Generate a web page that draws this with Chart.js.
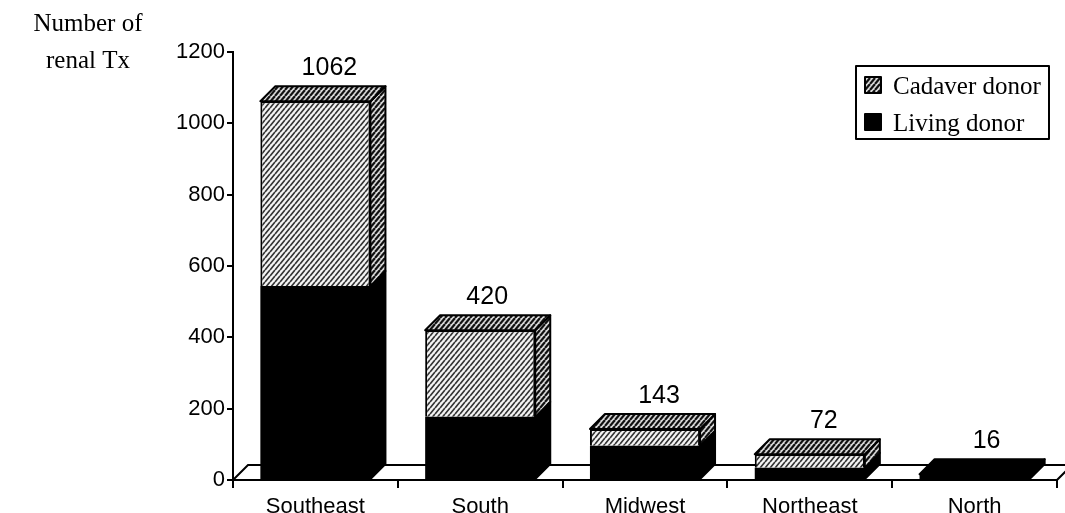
<!DOCTYPE html>
<html lang="en">
<head>
    <meta charset="UTF-8">
    <title>Number of renal Tx by region</title>
    <script src="https://cdn.jsdelivr.net/npm/chart.js"></script>
    <style>
        body { margin: 0; background: #fff; }
        canvas { display: block; }
    </style>
</head>
<body>
    <canvas id="txChart" width="1065" height="513"></canvas>

    <script>
        // Values
        const regions = ['Southeast', 'South', 'Midwest', 'Northeast', 'North'];
        const totals = [1062, 420, 143, 72, 16];
        const livingDonor = [544, 177, 96, 34, 16];
        const cadaverDonor = [518, 243, 47, 38, 0];
        const yTicks = [0, 200, 400, 600, 800, 1000, 1200];
        const titleLines = ['Number of', 'renal Tx'];

        const sansFont = '"Liberation Sans", Arial, sans-serif';
        const serifFont = '"Liberation Serif", "Times New Roman", serif';
        const depth = 15;  // 3D offset of the bars
        const labelNudge = [0, -7, 0, 0, -2];  // total labels are not quite centred in the original

        // Diagonal hatching, dark = side and top faces
        function hatch(line, back, width) {
            const w = 5, h = 6;
            const c = document.createElement('canvas');
            c.width = w;
            c.height = h;
            const g = c.getContext('2d');
            g.fillStyle = back;
            g.fillRect(0, 0, w, h);
            g.strokeStyle = line;
            g.lineWidth = width;
            g.beginPath();
            for (let i = -w; i <= w; i += w) {
                g.moveTo(i, h);
                g.lineTo(i + w, 0);
            }
            g.stroke();
            return g.createPattern(c, 'repeat');
        }
        const frontHatch = hatch('#333', '#f4f4f4', 1.7);
        const darkHatch = hatch('#111', '#d8d8d8', 2.2);

        function face(ctx, pts, fill) {
            ctx.beginPath();
            pts.forEach((p, i) => i ? ctx.lineTo(p[0], p[1]) : ctx.moveTo(p[0], p[1]));
            ctx.closePath();
            ctx.fillStyle = fill;
            ctx.fill();
            ctx.strokeStyle = '#000';
            ctx.lineWidth = 2;
            ctx.stroke();
        }

        // Floor behind the bars
        const floorPlugin = {
            id: 'floor',
            beforeDatasetsDraw(chart) {
                const ctx = chart.ctx;
                const x = chart.scales.x;
                const y0 = chart.scales.y.getPixelForValue(0);
                ctx.save();
                ctx.strokeStyle = '#000';
                ctx.lineWidth = 2;
                ctx.beginPath();
                ctx.moveTo(x.left, y0);
                ctx.lineTo(x.left + depth, y0 - depth);
                ctx.lineTo(x.right + depth, y0 - depth);
                ctx.lineTo(x.right, y0);
                ctx.stroke();
                ctx.restore();
            }
        };

        // Side and top faces, totals, title and legend
        const extrasPlugin = {
            id: 'extras',
            afterDatasetsDraw(chart) {
                const ctx = chart.ctx;
                ctx.save();
                ctx.lineJoin = 'round';
                const sets = chart.data.datasets;
                regions.forEach((name, i) => {
                    let topBar = null;
                    let topFill = null;
                    sets.forEach((ds, d) => {
                        if (!ds.data[i]) return;
                        const bar = chart.getDatasetMeta(d).data[i];
                        const right = bar.x + bar.width / 2;
                        const fill = d === 0 ? '#000' : darkHatch;
                        face(ctx, [[right, bar.y], [right + depth, bar.y - depth],
                            [right + depth, bar.base - depth], [right, bar.base]], fill);
                        topBar = bar;
                        topFill = fill;
                    });
                    const left = topBar.x - topBar.width / 2;
                    const right = topBar.x + topBar.width / 2;
                    face(ctx, [[left, topBar.y], [left + depth, topBar.y - depth],
                        [right + depth, topBar.y - depth], [right, topBar.y]], topFill);

                    // total above the bar
                    ctx.fillStyle = '#000';
                    ctx.font = '25px ' + sansFont;
                    ctx.textAlign = 'center';
                    ctx.textBaseline = 'alphabetic';
                    ctx.fillText(String(totals[i]), topBar.x + depth - 1 + labelNudge[i], topBar.y - depth - 11);
                });

                // axis title, top left
                ctx.fillStyle = '#000';
                ctx.font = '25px ' + serifFont;
                ctx.textAlign = 'center';
                ctx.fillText(titleLines[0], 88, 31);
                ctx.fillText(titleLines[1], 88, 68);

                // legend box
                ctx.lineWidth = 2;
                ctx.strokeStyle = '#000';
                ctx.strokeRect(856, 66, 193, 73);
                ctx.textAlign = 'left';
                ctx.font = '25px ' + serifFont;
                const rows = [sets[1], sets[0]];
                rows.forEach((ds, r) => {
                    const top = 77 + r * 37;
                    ctx.fillStyle = r === 0 ? darkHatch : '#000';
                    ctx.fillRect(865, top, 16, 16);
                    ctx.strokeRect(865, top, 16, 16);
                    ctx.fillStyle = '#000';
                    ctx.fillText(ds.label, 893, top + 17);
                });
                ctx.restore();
            }
        };

        new Chart(document.getElementById('txChart'), {
            type: 'bar',
            data: {
                labels: regions,
                datasets: [
                    { label: 'Living donor', data: livingDonor, backgroundColor: '#000', borderColor: '#000', borderWidth: 0 },
                    { label: 'Cadaver donor', data: cadaverDonor, backgroundColor: frontHatch, borderColor: '#000', borderWidth: 2 }
                ]
            },
            options: {
                responsive: false,
                animation: false,
                devicePixelRatio: 1,
                layout: { padding: { top: 52, right: 8, left: 0, bottom: 0 } },
                plugins: { legend: { display: false }, title: { display: false }, tooltip: { enabled: false } },
                datasets: { bar: { categoryPercentage: 1, barPercentage: 0.668 } },
                scales: {
                    x: {
                        stacked: true,
                        afterFit(scale) { scale.height = 33; },
                        border: { color: '#000', width: 2 },
                        grid: { drawOnChartArea: false, drawTicks: true, tickLength: 8, color: '#000', lineWidth: 2 },
                        ticks: { color: '#000', font: { family: sansFont, size: 22 }, padding: 6, maxRotation: 0 }
                    },
                    y: {
                        stacked: true,
                        min: 0,
                        max: 1200,
                        afterFit(scale) { scale.width = 233; },
                        afterBuildTicks(scale) { scale.ticks = yTicks.map(v => ({ value: v })); },
                        border: { color: '#000', width: 2 },
                        grid: { drawOnChartArea: false, drawTicks: true, tickLength: 6, color: '#000', lineWidth: 2 },
                        ticks: { color: '#000', font: { family: sansFont, size: 22 }, padding: 2, callback: v => String(v) }
                    }
                }
            },
            plugins: [floorPlugin, extrasPlugin]
        });
    </script>
</body>
</html>
